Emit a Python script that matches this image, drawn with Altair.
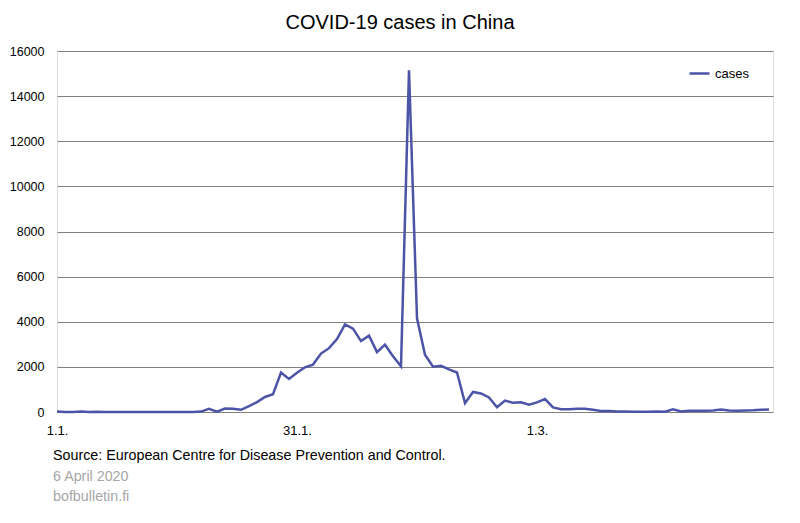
import altair as alt
import pandas as pd

FONT = "Liberation Sans, Arial, sans-serif"

dates = [d.strftime("%Y-%m-%dT00:00:00") for d in pd.date_range("2020-01-01", "2020-03-30")]

cases_jan = [27, 0, 0, 17, 0, 15, 0, 0, 0, 0, 0, 0, 0, 0, 0, 0, 0, 4, 17, 136,
             19, 151, 140, 97, 259, 441, 665, 787, 1753, 1466, 1740]
cases_feb = [1980, 2102, 2590, 2829, 3235, 3884, 3694, 3143, 3385, 2652, 2984,
             2473, 2022, 15141, 4156, 2538, 2007, 2048, 1886, 1749, 391, 889,
             823, 648, 214, 508, 406, 433, 327]
cases_mar = [427, 573, 202, 125, 119, 139, 143, 99, 44, 40, 19, 24, 15, 8, 11,
             20, 16, 115, 20, 50, 60, 60, 70, 110, 70, 60, 70, 80, 100, 110]
cases = cases_jan + cases_feb + cases_mar

y_ticks = [0, 2000, 4000, 6000, 8000, 10000, 12000, 14000, 16000]
title_text = "COVID-19 cases in China"
source_text = "Source: European Centre for Disease Prevention and Control."
date_text = "6 April 2020"
site_text = "bofbulletin.fi"

df = pd.DataFrame({"date": dates, "cases": cases, "series": "cases"})

W, H = 716, 361
LINE = "#4b54a6"

line = alt.Chart(df).mark_line(strokeWidth=2.5).encode(
    x=alt.X(
        "date:T",
        scale=alt.Scale(domain=[alt.DateTime(year=2020, month=1, date=1),
                                alt.DateTime(year=2020, month=3, date=30, hours=12)]),
        axis=alt.Axis(
            values=[alt.DateTime(year=2020, month=1, date=1),
                    alt.DateTime(year=2020, month=1, date=31),
                    alt.DateTime(year=2020, month=3, date=1)],
            format="%-d.%-m.", title=None, ticks=False, grid=False, domain=False,
            labelFont=FONT, labelFontSize=13, labelColor="black", labelPadding=12,
            labelFlush=False,
        ),
    ),
    y=alt.Y(
        "cases:Q",
        scale=alt.Scale(domain=[0, 16000], nice=False),
        axis=alt.Axis(
            values=y_ticks, format="d", title=None, ticks=False, domain=False, grid=True,
            gridColor="#808080", gridWidth=1, labelFont=FONT, labelFontSize=12.5,
            labelColor="black", labelPadding=13, labelFlush=False,
        ),
    ),
    color=alt.Color(
        "series:N",
        scale=alt.Scale(range=[LINE]),
        legend=alt.Legend(
            title=None, orient="none", legendX=631, legendY=11,
            symbolType="stroke", symbolStrokeWidth=2.5, symbolSize=400,
            labelFont=FONT, labelFontSize=13, labelColor="black", labelOffset=4,
        ),
    ),
)

def txt(s, x, y, size, color, align="left"):
    return alt.Chart(pd.DataFrame({"t": [s]})).mark_text(
        font=FONT, fontSize=size, color=color, align=align, baseline="alphabetic"
    ).encode(text="t:N", x=alt.value(x), y=alt.value(y))

title = txt(title_text, 343, -22, 20, "black", align="center")
src = txt(source_text, -4, 409, 14.3, "black")
dt = txt(date_text, -4, 430, 14.3, "#a6a6a6")
site = txt(site_text, -4, 450, 14.3, "#a6a6a6")

chart = alt.layer(line, title, src, dt, site).properties(
    width=W, height=H,
    autosize=alt.AutoSizeParams(type="none"),
    padding={"left": 49, "top": 43, "right": 19, "bottom": 100},
).configure_view(stroke="black", strokeWidth=1).configure(background="white")

chart.save("out.html", embed_options={"renderer": "svg", "actions": False})
